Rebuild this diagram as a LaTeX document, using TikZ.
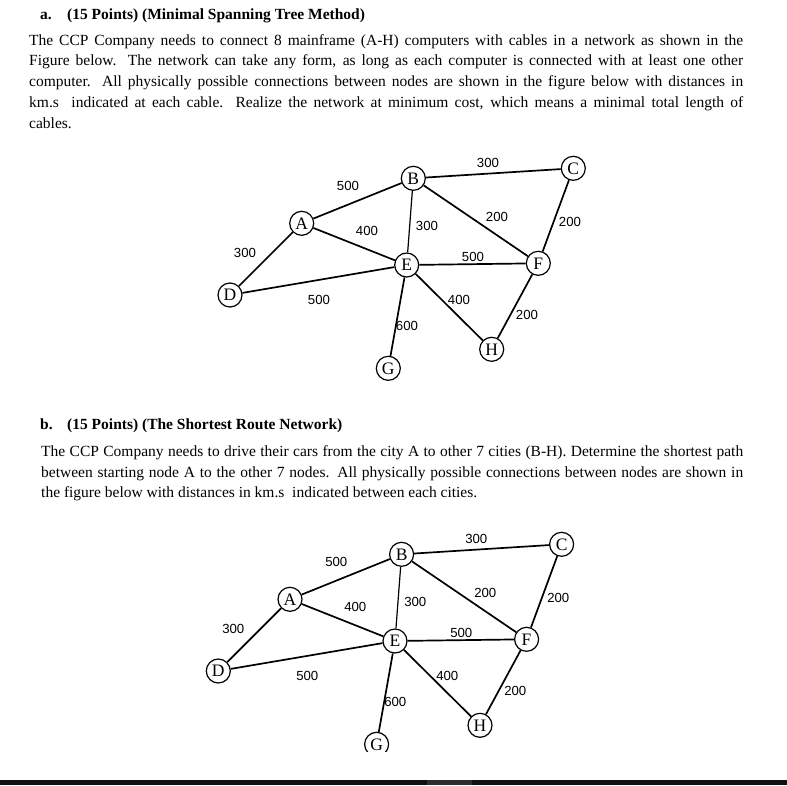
\documentclass[tikz,border=0pt]{standalone}
\usepackage{fontspec}
\setmainfont{Liberation Serif}
\newfontfamily\labelfont{Liberation Sans}
\usetikzlibrary{positioning}
\definecolor{barblack}{HTML}{111111}
\definecolor{bargray}{HTML}{2E2E2E}

\tikzset{
  city/.style={circle, draw, line width=1.2pt, fill=white, minimum size=24pt, inner sep=0pt, font=\fontsize{17.5}{17.5}\selectfont},
  cable/.style={line width=1.7pt},
  thincable/.style={line width=1.2pt},
  dist/.style={font=\labelfont\fontsize{13.2}{13.2}\selectfont, inner sep=0pt},
  task/.style={anchor=base west, inner sep=0pt, text width=#1, align=justify},
  tasktitle/.style={anchor=base west, inner sep=0pt, font=\bfseries\fontsize{15.5}{18}\selectfont}
}

% one network, node names get the prefix #1
\newcommand{\drawnet}[1]{%
  \node[city] (#1A) at (301.7,223.3) {A};
  \node[city] (#1B) at (413.3,178.3) {B};
  \node[city] (#1C) at (573.3,168.3) {C};
  \node[city] (#1D) at (230,295) {D};
  \node[city] (#1E) at (406.7,265) {E};
  \node[city] (#1F) at (538.3,263.3) {F};
  \node[city] (#1G) at (388.3,368.3) {G};
  \node[city] (#1H) at (491.7,349.3) {H};
  \draw[cable] (#1A) -- (#1B);
  \draw[cable] (#1B) -- (#1C);
  \draw[cable] (#1A) -- (#1D);
  \draw[cable] (#1A) -- (#1E);
  \draw[thincable] (#1B) -- (#1E);
  \draw[cable] (#1B) -- (#1F);
  \draw[cable] (#1C) -- (#1F);
  \draw[cable] (#1E) -- (#1F);
  \draw[cable] (#1D) -- (#1E);
  \draw[cable] (#1E) -- (#1G);
  \draw[cable] (#1E) -- (#1H);
  \draw[cable] (#1F) -- (#1H);
  \node[dist] (#1dAB) at (348,186) {500};
  \node[dist] (#1dBC) at (488,163) {300};
  \node[dist] (#1dAD) at (245,253) {300};
  \node[dist] (#1dAE) at (367,231) {400};
  \node[dist] (#1dBE) at (427,226) {300};
  \node[dist] (#1dBF) at (497,217) {200};
  \node[dist] (#1dCF) at (570,222) {200};
  \node[dist] (#1dEF) at (473,257) {500};
  \node[dist] (#1dDE) at (319,300) {500};
  \node[dist] (#1dEG) at (407,326) {600};
  \node[dist] (#1dEH) at (459,300) {400};
  \node[dist] (#1dFH) at (527,315) {200};
}

\begin{document}
\begin{tikzpicture}[x=1pt,y=-1pt]
\useasboundingbox (0,0) rectangle (787,785);

% part a
\node[tasktitle] (alabel) at (40,19) {a.};
\node[tasktitle] (atitle) at (67,19) {(15 Points) (Minimal Spanning Tree Method)};
\node[task=714pt, font=\fontsize{15.5}{20.75}\selectfont] (atext) at (29,45)
  {The CCP Company needs to connect 8 mainframe (A-H) computers with cables in a network as shown in the\linebreak
   Figure below. The network can take any form, as long as each computer is connected with at least one other\linebreak
   computer. All physically possible connections between nodes are shown in the figure below with distances in\linebreak
   km.s~ indicated at each cable. Realize the network at minimum cost, which means a minimal total length of\linebreak
   cables.};
\drawnet{a}

% part b
\node[tasktitle] (blabel) at (40,429.5) {b.};
\node[tasktitle] (btitle) at (67,429.5) {(15 Points) (The Shortest Route Network)};
\node[task=702pt, font=\fontsize{15.5}{20.3}\selectfont] (btext) at (41,456.7)
  {The CCP Company needs to drive their cars from the city A to other 7 cities (B-H). Determine the shortest path\linebreak
   between starting node A to the other 7 nodes. All physically possible connections between nodes are shown in\linebreak
   the figure below with distances in km.s~ indicated between each cities.};
\begin{scope}
  \clip (0,0) rectangle (787,751);
  \begin{scope}[shift={(-11.7,376)}]
    \drawnet{b}
  \end{scope}
\end{scope}

% bottom bar
\fill[barblack] (0,780) rectangle (787,785);
\fill[bargray] (427,780) rectangle (472,785);
\end{tikzpicture}
\end{document}
